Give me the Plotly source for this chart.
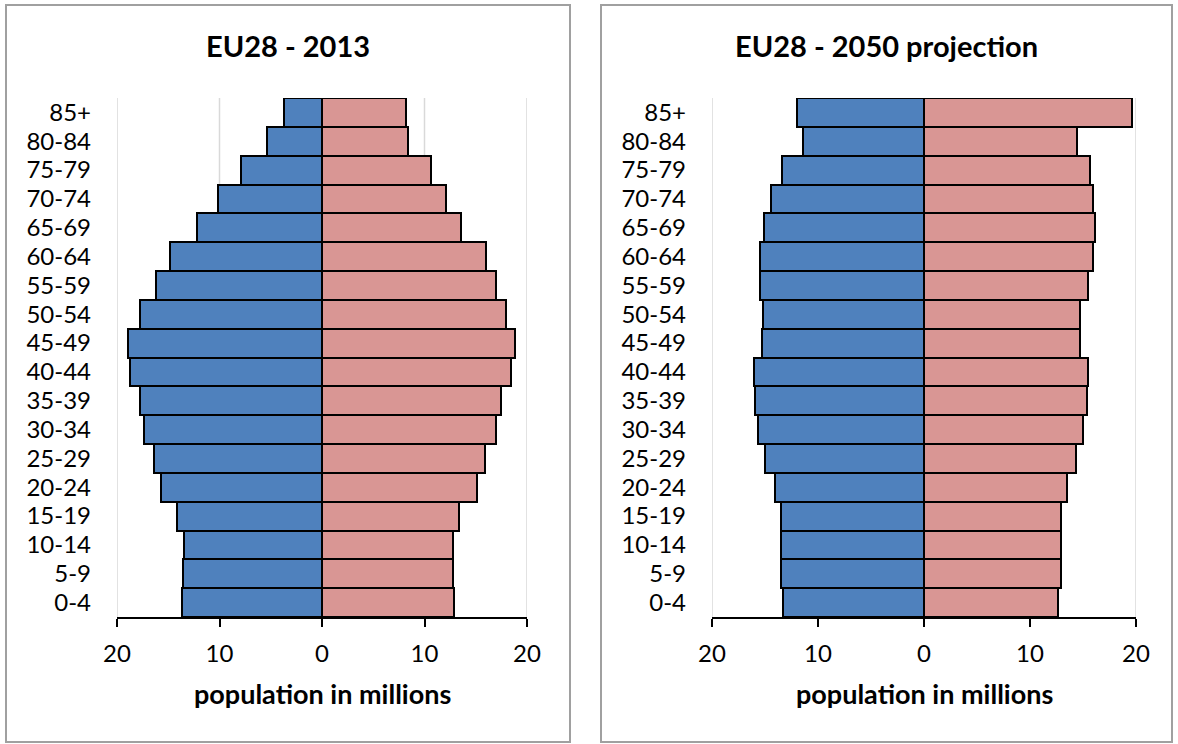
import plotly.graph_objects as go

# Age groups, youngest at the bottom of each pyramid
age_groups = ["0-4", "5-9", "10-14", "15-19", "20-24", "25-29", "30-34", "35-39",
              "40-44", "45-49", "50-54", "55-59", "60-64", "65-69", "70-74",
              "75-79", "80-84", "85+"]

# Population in millions
male_2013 = [13.67, 13.56, 13.48, 14.12, 15.75, 16.35, 17.32, 17.80, 18.73,
             18.96, 17.73, 16.24, 14.86, 12.18, 10.17, 7.93, 5.36, 3.69]
female_2013 = [12.92, 12.74, 12.74, 13.33, 15.08, 15.94, 16.98, 17.47, 18.47,
               18.85, 17.99, 16.95, 15.98, 13.52, 12.10, 10.65, 8.38, 8.16]
male_2050 = [13.29, 13.50, 13.46, 13.46, 14.10, 14.98, 15.69, 15.94, 16.04,
             15.27, 15.16, 15.51, 15.44, 15.09, 14.42, 13.36, 11.38, 11.98]
female_2050 = [12.61, 12.93, 12.93, 12.97, 13.53, 14.38, 15.02, 15.34, 15.48,
               14.73, 14.73, 15.44, 15.94, 16.15, 15.94, 15.65, 14.45, 19.65]

panel_titles = ["EU28 - 2013", "EU28 - 2050 projection"]
x_title = "population in millions"
x_tickvals = [-20, -10, 0, 10, 20]
x_ticktext = ["20", "10", "0", "10", "20"]

MALE_COLOR = "#4F81BD"
FEMALE_COLOR = "#D99694"
GRID_COLOR = "#D9D9D9"
FONT = "Lato"

W, H = 1178, 744


def px_x(x):
    return x / W


def px_y(y):
    return 1 - y / H


fig = go.Figure()

panels = [
    (male_2013, female_2013, "x", "y"),
    (male_2050, female_2050, "x2", "y2"),
]
for male, female, xa, ya in panels:
    fig.add_trace(go.Bar(
        y=age_groups, x=[-v for v in male], orientation="h",
        marker=dict(color=MALE_COLOR, line=dict(color="black", width=2)),
        xaxis=xa, yaxis=ya, showlegend=False, name="male",
    ))
    fig.add_trace(go.Bar(
        y=age_groups, x=female, orientation="h",
        marker=dict(color=FEMALE_COLOR, line=dict(color="black", width=2)),
        xaxis=xa, yaxis=ya, showlegend=False, name="female",
    ))

plot_top, plot_bottom = 98, 617
left_plot = (117, 527)
right_plot = (712, 1136)

xaxis_common = dict(
    range=[-20, 20], tickvals=x_tickvals, ticktext=x_ticktext,
    showgrid=False,
    zeroline=True, zerolinecolor="black", zerolinewidth=2,
    showline=True, linecolor="black", linewidth=2,
    ticks="outside", ticklen=8, tickwidth=2, tickcolor="black",
    tickfont=dict(family=FONT, size=24, color="black"),
    ticklabelstandoff=6, fixedrange=True, automargin=False,
)
yaxis_common = dict(
    range=[-0.5, 17.5], showgrid=False, zeroline=False, showline=False,
    tickmode="array", tickvals=age_groups, ticktext=age_groups,
    ticks="", tickfont=dict(family=FONT, size=24, color="black"),
    ticklabelstandoff=25, fixedrange=True, automargin=False,
    domain=[px_y(plot_bottom), px_y(plot_top)],
)

fig.update_layout(
    width=W, height=H,
    margin=dict(l=0, r=0, t=0, b=0, autoexpand=False),
    paper_bgcolor="white", plot_bgcolor="white",
    barmode="relative", bargap=0,
    xaxis=dict(domain=[px_x(left_plot[0]), px_x(left_plot[1])], anchor="y", **xaxis_common),
    yaxis=dict(anchor="x", **yaxis_common),
    xaxis2=dict(domain=[px_x(right_plot[0]), px_x(right_plot[1])], anchor="y2", **xaxis_common),
    yaxis2=dict(anchor="x2", **yaxis_common),
    font=dict(family=FONT, color="black"),
)

# Vertical gridlines at the non-zero x ticks (including the ±20 edges)
for xa, ya in [("x", "y"), ("x2", "y2")]:
    for v in x_tickvals:
        if v == 0:
            continue
        fig.add_shape(type="line", xref=xa, yref=f"{ya} domain",
                      x0=v, x1=v, y0=0, y1=1,
                      line=dict(color=GRID_COLOR, width=1.5), layer="below")

# Chart-area frames around each pyramid
frames = [(6, 5, 570, 742), (601, 5, 1172, 742)]
for x0, y0, x1, y1 in frames:
    fig.add_shape(type="rect", xref="paper", yref="paper",
                  x0=px_x(x0), x1=px_x(x1), y0=px_y(y1), y1=px_y(y0),
                  line=dict(color="#A0A0A0", width=2), fillcolor="rgba(0,0,0,0)",
                  layer="below")

# Panel titles and axis titles
title_centers = [(288, 46), (887, 46)]
for (cx, cy), text in zip(title_centers, panel_titles):
    fig.add_annotation(text=f"<b>{text}</b>", xref="paper", yref="paper",
                       x=px_x(cx), y=px_y(cy), xanchor="center", yanchor="middle",
                       showarrow=False, font=dict(family=FONT, size=29, color="black"))

axis_title_centers = [(322, 693), (924, 693)]
for cx, cy in axis_title_centers:
    fig.add_annotation(text=f"<b>{x_title}</b>", xref="paper", yref="paper",
                       x=px_x(cx), y=px_y(cy), xanchor="center", yanchor="middle",
                       showarrow=False, font=dict(family=FONT, size=27, color="black"))

fig.write_html("out.html")
